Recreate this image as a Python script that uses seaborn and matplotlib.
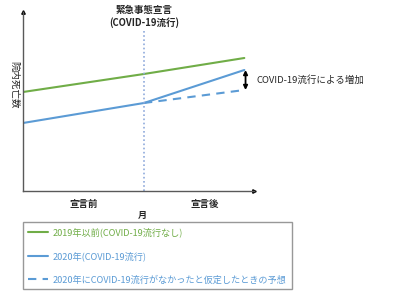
import matplotlib
matplotlib.use("Agg")
import matplotlib.pyplot as plt
import seaborn as sns
import pandas as pd
from matplotlib.lines import Line2D

sns.set_theme(style="white")
plt.rcParams['font.family'] = ['Noto Sans CJK JP', 'DejaVu Sans']

# --- data ---
x_points = [0, 1, 1.83]
green_2019 = [99, 117, 133]
blue_2020 = [68, 88, 121]
x_pred = [1, 1.83]
pred_2020 = [88, 101]
tick_pos = [0.5, 1.5]
tick_labels = ["宣言前", "宣言後"]
legend_labels = ["2019年以前(COVID-19流行なし)",
                 "2020年(COVID-19流行)",
                 "2020年にCOVID-19流行がなかったと仮定したときの予想"]

GREEN = "#70ad47"
BLUE = "#5b9bd5"
GRAY = "#595959"
FS = 6.8

fig = plt.figure(figsize=(4, 3), dpi=100)
ax = fig.add_axes([23/400, 1 - 191/300, (254 - 23)/400, (191 - 12)/300])

df_g = pd.DataFrame({"x": x_points, "y": green_2019})
df_b = pd.DataFrame({"x": x_points, "y": blue_2020})
df_p = pd.DataFrame({"x": x_pred, "y": pred_2020})

sns.lineplot(data=df_g, x="x", y="y", ax=ax, color=GREEN, lw=1.5)
sns.lineplot(data=df_b, x="x", y="y", ax=ax, color=BLUE, lw=1.5)
sns.lineplot(data=df_p, x="x", y="y", ax=ax, color=BLUE, lw=1.5,
             linestyle=(0, (4, 3)))

ax.set_xlim(0, 1.91)
ax.set_ylim(0, 179)

# vertical dotted line for declaration
ax.axvline(1, ymin=0, ymax=(191 - 30)/179, color="#8faadc", lw=1.2,
           linestyle=(0, (1, 1.5)))

# spines
for s in ["top", "right"]:
    ax.spines[s].set_visible(False)
for s in ["left", "bottom"]:
    ax.spines[s].set_color(GRAY)
    ax.spines[s].set_linewidth(1.0)
ax.plot(1, 0, ">", color="black", ms=2.5, transform=ax.transAxes, clip_on=False)
ax.plot(0, 1, "^", color="black", ms=2.5, transform=ax.transAxes, clip_on=False)

ax.set_xticks(tick_pos)
ax.set_xticklabels(tick_labels, fontsize=FS, fontweight="bold")
ax.tick_params(axis="x", length=0, pad=6)
ax.set_yticks([])
ax.set_xlabel("")
ax.text((142 - 23)/231, -(215.5 - 191)/179, "月", transform=ax.transAxes,
        ha="center", va="center", fontsize=6.5, fontweight="bold")
ax.set_ylabel("")
ax.text(-(23 - 14)/231, (191 - 85)/179, "院内死亡数", transform=ax.transAxes,
        rotation=-90, ha="center", va="center", fontsize=FS)

# title over the declaration line
ax.text(1, (191 - 16.5)/179, "緊急事態宣言\n(COVID-19流行)",
        transform=ax.get_xaxis_transform(),
        ha="center", va="center", fontsize=FS, fontweight="bold", linespacing=1.25)

# increase arrow + annotation
ax.annotate("", xy=(1.84, 121), xytext=(1.84, 101),
            arrowprops=dict(arrowstyle="<|-|>", color="black", lw=1.3,
                            mutation_scale=6, shrinkA=0, shrinkB=0))
ax.text(1.93, 111, "COVID-19流行による増加", fontsize=FS, va="center", ha="left",
        clip_on=False)

handles = [Line2D([], [], color=GREEN, lw=1.5),
           Line2D([], [], color=BLUE, lw=1.5),
           Line2D([], [], color=BLUE, lw=1.5, linestyle=(0, (4, 3)))]
leg = fig.legend(handles, legend_labels, loc="upper left",
                 bbox_to_anchor=(23/400, 1 - 222/300), fontsize=6.6,
                 labelcolor=[GREEN, BLUE, BLUE], frameon=True, fancybox=False,
                 handlelength=2.2, handletextpad=0.5, labelspacing=1.55,
                 borderpad=0.55, borderaxespad=0)
leg.get_frame().set_edgecolor("#7f7f7f")
leg.get_frame().set_linewidth(1.0)

fig.savefig("out.png", dpi=100)
